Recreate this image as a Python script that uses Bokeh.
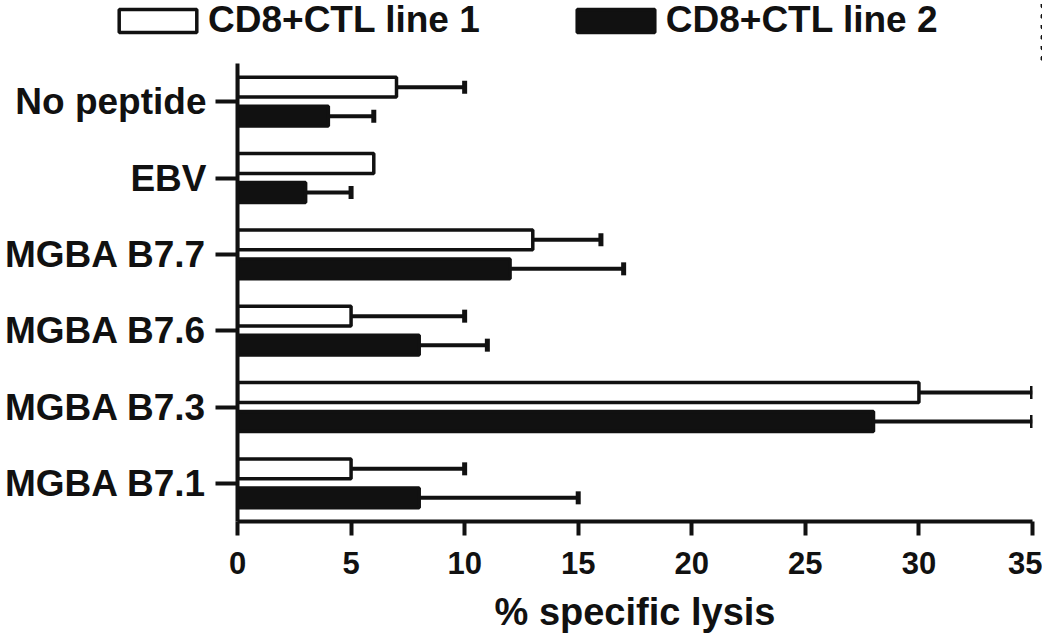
from bokeh.plotting import figure
from bokeh.models import (ColumnDataSource, FactorRange, Range1d, Whisker, TeeHead,
                          Legend, LegendItem, FixedTicker)
from bokeh.transform import dodge
from bokeh.embed import file_html
from bokeh.resources import INLINE

# ---- data ----
categories = ["No peptide", "EBV", "MGBA B7.7", "MGBA B7.6", "MGBA B7.3", "MGBA B7.1"]
series_names = ["CD8+CTL line 1", "CD8+CTL line 2"]
line1 = [7, 6, 13, 5, 30, 5]
line1_err = [3, 0, 3, 5, 5, 5]
line2 = [4, 3, 12, 8, 28, 8]
line2_err = [2, 2, 5, 3, 7, 7]
x_ticks = [0, 5, 10, 15, 20, 25, 30, 35]
x_label = "% specific lysis"

FONT = "Liberation Sans"
INK = "#111111"
styles = [dict(fill_color="white", line_color=INK, line_width=3.5),
          dict(fill_color=INK, line_color=INK, line_width=3.5)]

src1 = ColumnDataSource(dict(cat=categories, val=line1))
src2 = ColumnDataSource(dict(cat=categories, val=line2))
sources = [src1, src2]

W = 1042

# ---------------- main chart ----------------
p = figure(width=W, height=572,
           y_range=FactorRange(factors=list(reversed(categories)), range_padding=0),
           x_range=Range1d(0, 35),
           output_backend="svg", toolbar_location=None,
           min_border_left=237, min_border_right=10,
           min_border_top=0, min_border_bottom=113)

p.outline_line_color = None
p.xgrid.visible = False
p.ygrid.visible = False
p.background_fill_color = "white"
p.border_fill_color = "white"

off = 0.19
bh = 0.26
offsets = [off, -off]

for s, o, st in zip(sources, offsets, styles):
    p.hbar(y=dodge("cat", o, range=p.y_range), left=0, right="val", height=bh, source=s, **st)

# error bars (only upward / positive direction)
def whisker_data(vals, errs):
    d = dict(cat=[], val=[], top=[])
    for c, v, e in zip(categories, vals, errs):
        if e > 0:
            d["cat"].append(c); d["val"].append(v); d["top"].append(v + e)
    return d

for d, o in ((whisker_data(line1, line1_err), off), (whisker_data(line2, line2_err), -off)):
    ws = ColumnDataSource(d)
    wh = Whisker(base=dodge("cat", o, range=p.y_range), lower="val", upper="top",
                 dimension="width", source=ws, line_color=INK, line_width=4,
                 lower_head=None,
                 upper_head=TeeHead(size=13, line_width=5, line_color=INK))
    p.add_layout(wh)

# axes styling
ax = p.xaxis[0]
ax.ticker = FixedTicker(ticks=x_ticks)
ax.axis_label = x_label
ax.axis_label_text_font = FONT
ax.axis_label_text_font_style = "bold"
ax.axis_label_text_font_size = "38px"
ax.axis_label_text_color = INK
ax.axis_label_standoff = 14
ax.major_label_text_font = FONT
ax.major_label_text_font_style = "bold"
ax.major_label_text_font_size = "31px"
ax.major_label_text_color = INK
ax.major_label_standoff = 16
ax.major_tick_in = 0
ax.major_tick_out = 14
ax.minor_tick_in = 0
ax.minor_tick_out = 0
ax.axis_line_width = 4
ax.major_tick_line_width = 4
ax.axis_line_color = INK
ax.major_tick_line_color = INK

ay = p.yaxis[0]
ay.major_label_text_font = FONT
ay.major_label_text_font_style = "bold"
ay.major_label_text_font_size = "37px"
ay.major_label_text_color = INK
ay.major_label_standoff = 9
ay.major_tick_in = 0
ay.major_tick_out = 22
ay.axis_line_width = 4
ay.major_tick_line_width = 4
ay.axis_line_color = INK
ay.major_tick_line_color = INK

# ---------------- legend strip (separate root, no frame alignment) ----------------
lg = figure(width=W, height=63, x_range=Range1d(-2, -1),
            y_range=FactorRange(factors=list(reversed(categories))),
            output_backend="svg", toolbar_location=None,
            x_axis_location=None, y_axis_location=None, min_border=0)
lg.outline_line_color = None
lg.xgrid.visible = False
lg.ygrid.visible = False
lg.background_fill_color = "white"
lg.border_fill_color = "white"
# proxy renderers (their bars lie outside this strip's visible range)
leg_renderers = [lg.hbar(y="cat", left=0, right="val", height=bh, source=s, **st)
                 for s, st in zip(sources, styles)]

legend = Legend(items=[LegendItem(label=n, renderers=[r]) for n, r in zip(series_names, leg_renderers)],
                orientation="horizontal", location=(109, 22),
                glyph_width=97, glyph_height=29, label_standoff=2, spacing=87,
                padding=0, margin=0, border_line_color=None,
                background_fill_alpha=0,
                label_text_font=FONT, label_text_font_style="bold",
                label_text_font_size="37px", label_text_color=INK)
lg.add_layout(legend, "center")

open("out.html", "w").write(file_html([lg, p], INLINE))
